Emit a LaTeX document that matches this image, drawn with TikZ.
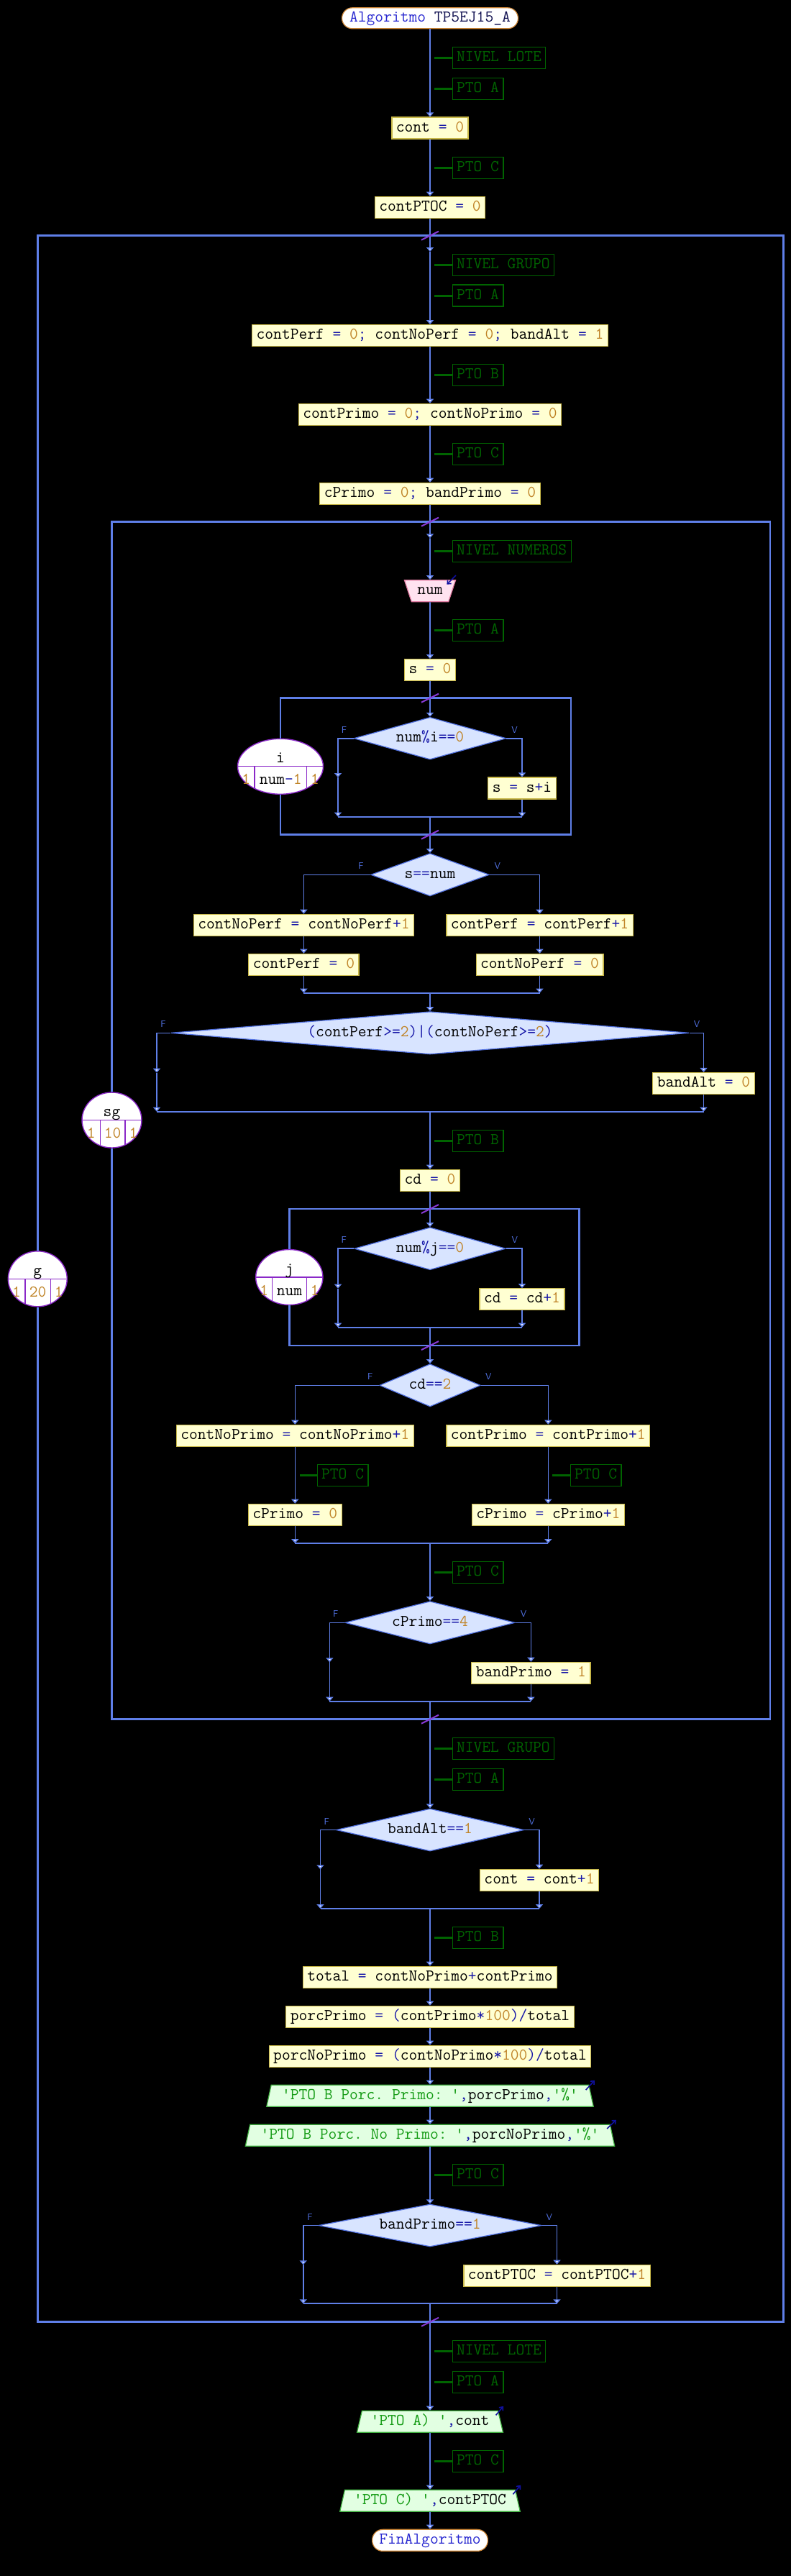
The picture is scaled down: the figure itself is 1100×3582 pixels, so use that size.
\documentclass[tikz,border=0pt]{standalone}
\usetikzlibrary{arrows.meta,shapes.geometric}
\definecolor{flowc}{HTML}{5F7FE8}
\definecolor{boxfill}{HTML}{FFFFD2}
\definecolor{boxdraw}{HTML}{C8B848}
\definecolor{dfill}{HTML}{D8E4FF}
\definecolor{ddraw}{HTML}{5070E0}
\definecolor{infill}{HTML}{FFE2F0}
\definecolor{indraw}{HTML}{E07AA0}
\definecolor{outfill}{HTML}{E2FFE2}
\definecolor{outdraw}{HTML}{40B040}
\definecolor{loopc}{HTML}{8A28C8}
\definecolor{termdraw}{HTML}{D08838}
\definecolor{comc}{HTML}{006400}
\definecolor{slashc}{HTML}{8A3AD8}
\definecolor{cvar}{HTML}{000000}
\definecolor{cop}{HTML}{1818A8}
\definecolor{cnum}{HTML}{C08428}
\definecolor{cstr}{HTML}{129A12}
\definecolor{ckw}{HTML}{2828D0}
\definecolor{cnm}{HTML}{101050}
\definecolor{iocol}{HTML}{1010A0}
\newcommand\codefont{\ttfamily\frenchspacing\fontsize{22.857pt}{24pt}\selectfont}
\newcommand\cV[1]{\textcolor{cvar}{#1}}
\newcommand\cO[1]{\textcolor{cop}{#1}}
\newcommand\cN[1]{\textcolor{cnum}{#1}}
\newcommand\cS[1]{\textcolor{cstr}{#1}}
\newcommand\qq{\textquotesingle}
\tikzset{
  every node/.style={font=\codefont, inner sep=0pt, text height=14pt, text depth=4pt},
  asg/.style={draw=boxdraw, fill=boxfill, line width=1.2pt, inner xsep=6pt, minimum height=30pt},
  dec/.style={diamond, draw=ddraw, fill=dfill, line width=1.2pt},
  com/.style={draw=comc, text=comc, line width=1.2pt, inner xsep=6pt, minimum height=30pt, anchor=west},
  comtick/.style={draw=comc, line width=3pt},
  term/.style={draw=termdraw, fill=white, line width=1.2pt, rounded corners=14.5pt, minimum height=29pt},
  inp/.style={trapezium, trapezium left angle=110.6, trapezium right angle=110.6, trapezium stretches=true, draw=indraw, fill=infill, line width=1.2pt, minimum height=30pt},
  outp/.style={trapezium, trapezium left angle=71.5, trapezium right angle=71.5, trapezium stretches=true, draw=outdraw, fill=outfill, line width=1.2pt, minimum height=30pt},
  loopell/.style={ellipse, draw=loopc, fill=white, line width=1.4pt, minimum height=77pt},
  cellline/.style={draw=loopc, line width=1.2pt},
  flow/.style={draw=flowc, line width=1.6pt},
  arr/.style={flow, -{Triangle[width=10pt,length=6pt,fill=white]}},
  joinl/.style={draw=flowc, line width=2.2pt},
  loopbox/.style={draw=flowc, line width=2.6pt},
  slash/.style={draw=slashc, line width=2pt},
  lbl/.style={font=\sffamily\fontsize{13pt}{13pt}\selectfont, text=ddraw, text height=9pt, text depth=0pt},
  ioarr/.style={draw=iocol, line width=1.6pt, -{Straight Barb[length=4pt,width=7pt]}},
}
\begin{document}
\begin{tikzpicture}[x=1pt,y=-1pt]
\useasboundingbox (0,0) rectangle (1100,3582);
\fill[black] (0,0) rectangle (1100,3582);

% ---------- main column nodes ----------
\node[term, minimum width=245pt] (start) at (598,25.3) {\textcolor{ckw}{Algoritmo} \textcolor{cnm}{TP5EJ15\_A}};
\node[com] (c1) at (628.5,80.5) {NIVEL LOTE};
\node[com] (c2) at (628.5,123.3) {PTO A};
\node[asg] (cont0) at (598,178) {\cV{cont} \cO{=} \cN{0}};
\node[com] (c3) at (628.5,233.3) {PTO C};
\node[asg] (ptoc0) at (598,288.3) {\cV{contPTOC} \cO{=} \cN{0}};
\node[com] (c4) at (628.5,368.3) {NIVEL GRUPO};
\node[com] (c5) at (628.5,411) {PTO A};
\node[asg] (init1) at (598,466.7) {\cV{contPerf} \cO{=} \cN{0}\cO{;} \cV{contNoPerf} \cO{=} \cN{0}\cO{;} \cV{bandAlt} \cO{=} \cN{1}};
\node[com] (c6) at (628.5,521.3) {PTO B};
\node[asg] (init2) at (598,576.3) {\cV{contPrimo} \cO{=} \cN{0}\cO{;} \cV{contNoPrimo} \cO{=} \cN{0}};
\node[com] (c7) at (628.5,631.3) {PTO C};
\node[asg] (init3) at (598,686.3) {\cV{cPrimo} \cO{=} \cN{0}\cO{;} \cV{bandPrimo} \cO{=} \cN{0}};
\node[com] (c8) at (628.5,766.3) {NIVEL NUMEROS};
\node[inp, minimum width=71.4pt] (num) at (598,821.7) {\cV{num}};
\node[com] (c9) at (628.5,876.3) {PTO A};
\node[asg] (s0) at (598,931.7) {\cV{s} \cO{=} \cN{0}};
\node[dec, aspect=3.6, minimum width=211.7pt, minimum height=58.7pt] (d1) at (598,1026.7) {\cV{num}\cO{\%}\cV{i}\cO{==}\cN{0}};
\node[asg] (ssi) at (726,1096) {\cV{s} \cO{=} \cV{s}\cO{+}\cV{i}};
\node[dec, aspect=2.78, minimum width=164.6pt, minimum height=59.3pt] (d2) at (598,1216.3) {\cV{s}\cO{==}\cV{num}};
\node[asg] (cnp1) at (422.4,1286.3) {\cV{contNoPerf} \cO{=} \cV{contNoPerf}\cO{+}\cN{1}};
\node[asg] (cp0) at (422.4,1341.3) {\cV{contPerf} \cO{=} \cN{0}};
\node[asg] (cp1) at (750.5,1286.3) {\cV{contPerf} \cO{=} \cV{contPerf}\cO{+}\cN{1}};
\node[asg] (cnp0) at (750.5,1341.3) {\cV{contNoPerf} \cO{=} \cN{0}};
\node[dec, aspect=12.15, minimum width=720.8pt, minimum height=59.3pt] (d3) at (598,1436.3) {\cO{(}\cV{contPerf}\cO{>=}\cN{2}\cO{)|(}\cV{contNoPerf}\cO{>=}\cN{2}\cO{)}};
\node[asg] (ba0) at (978.5,1506.5) {\cV{bandAlt} \cO{=} \cN{0}};
\node[com] (c10) at (628.5,1586.7) {PTO B};
\node[asg] (cd0) at (598,1641.3) {\cV{cd} \cO{=} \cN{0}};
\node[dec, aspect=3.57, minimum width=210.4pt, minimum height=59pt] (d4) at (598,1736.2) {\cV{num}\cO{\%}\cV{j}\cO{==}\cN{0}};
\node[asg] (cdp) at (726,1806.7) {\cV{cd} \cO{=} \cV{cd}\cO{+}\cN{1}};
\node[dec, aspect=2.37, minimum width=140.3pt, minimum height=59.3pt] (d5) at (598,1926.3) {\cV{cd}\cO{==}\cN{2}};
\node[asg] (cnpr) at (410.3,1996.3) {\cV{contNoPrimo} \cO{=} \cV{contNoPrimo}\cO{+}\cN{1}};
\node[com] (cL) at (440.6,2051.3) {PTO C};
\node[asg] (cpr0) at (410.3,2106.3) {\cV{cPrimo} \cO{=} \cN{0}};
\node[asg] (cpr) at (762.3,1996.3) {\cV{contPrimo} \cO{=} \cV{contPrimo}\cO{+}\cN{1}};
\node[com] (cR) at (792.6,2051.3) {PTO C};
\node[asg] (cprp) at (762.3,2106.3) {\cV{cPrimo} \cO{=} \cV{cPrimo}\cO{+}\cN{1}};
\node[com] (c11) at (628.5,2186.3) {PTO C};
\node[dec, aspect=3.98, minimum width=236pt, minimum height=59.3pt] (d6) at (598,2256.3) {\cV{cPrimo}\cO{==}\cN{4}};
\node[asg] (bp1) at (738.4,2326.3) {\cV{bandPrimo} \cO{=} \cN{1}};
\node[com] (c12) at (628.5,2431.3) {NIVEL GRUPO};
\node[com] (c13) at (628.5,2474.3) {PTO A};
\node[dec, aspect=4.42, minimum width=261pt, minimum height=59pt] (d7) at (598,2544.5) {\cV{bandAlt}\cO{==}\cN{1}};
\node[asg] (cont1) at (750,2614.3) {\cV{cont} \cO{=} \cV{cont}\cO{+}\cN{1}};
\node[com] (c14) at (628.5,2694.3) {PTO B};
\node[asg] (total) at (598,2749.3) {\cV{total} \cO{=} \cV{contNoPrimo}\cO{+}\cV{contPrimo}};
\node[asg] (porcP) at (598,2804.3) {\cV{porcPrimo} \cO{=} \cO{(}\cV{contPrimo}\cO{*}\cN{100}\cO{)/}\cV{total}};
\node[asg] (porcNP) at (598,2859.3) {\cV{porcNoPrimo} \cO{=} \cO{(}\cV{contNoPrimo}\cO{*}\cN{100}\cO{)/}\cV{total}};
\node[outp, minimum width=456.2pt] (out1) at (598,2914.3) {\cS{\qq PTO B Porc. Primo: \qq}\cO{,}\cV{porcPrimo}\cO{,}\cS{\qq\%\qq}};
\node[outp, minimum width=516.2pt] (out2) at (598,2969.3) {\cS{\qq PTO B Porc. No Primo: \qq}\cO{,}\cV{porcNoPrimo}\cO{,}\cS{\qq\%\qq}};
\node[com] (c15) at (628.5,3024.3) {PTO C};
\node[dec, aspect=5.25, minimum width=310pt, minimum height=59pt] (d8) at (598,3094.5) {\cV{bandPrimo}\cO{==}\cN{1}};
\node[asg] (ptoc1) at (774.5,3164.3) {\cV{contPTOC} \cO{=} \cV{contPTOC}\cO{+}\cN{1}};
\node[com] (c16) at (628.5,3269.3) {NIVEL LOTE};
\node[com] (c17) at (628.5,3312.3) {PTO A};
\node[outp, minimum width=203.4pt] (outA) at (598,3367.3) {\cS{\qq PTO A) \qq}\cO{,}\cV{cont}};
\node[com] (c18) at (628.5,3422.3) {PTO C};
\node[outp, minimum width=251.2pt] (outC) at (598,3477.3) {\cS{\qq PTO C) \qq}\cO{,}\cV{contPTOC}};
\node[term, minimum width=160.7pt, minimum height=30pt] (fin) at (598,3532.3) {\textcolor{ckw}{FinAlgoritmo}};

% ---------- F / V labels ----------
\foreach \d/\fx/\vx in {d1/-13/11,d2/-13/11,d3/-10/10,d4/-14/12,d5/-12.6/10.5,d6/-12.7/11.5,d7/-12.6/10.4,d8/-11.5/10.3}{
  \node[lbl] (\d f) at ([shift={(\fx,-12)}]\d.west) {F};
  \node[lbl] (\d v) at ([shift={(\vx,-12)}]\d.east) {V};
}

% ---------- loop ellipses ----------
\node[loopell, minimum width=82pt] (gell) at (52.3,1778.3) {};
\node[loopell, minimum width=83pt] (sgell) at (155.5,1557.5) {};
\node[loopell, minimum width=119pt] (iell) at (390,1065.8) {};
\node[loopell, minimum width=93.3pt] (jell) at (402.3,1776) {};
\begin{scope}
  \clip (52.3,1778.3) ellipse [x radius=41pt, y radius=38.5pt];
  \draw[cellline] (10,1778.3) -- (95,1778.3) (35,1778.3) -- (35,1820) (70.2,1778.3) -- (70.2,1820);
\end{scope}
\begin{scope}
  \clip (155.5,1557.5) ellipse [x radius=41.5pt, y radius=38.5pt];
  \draw[cellline] (112,1557.5) -- (200,1557.5) (139.5,1557.5) -- (139.5,1600) (174,1557.5) -- (174,1600);
\end{scope}
\begin{scope}
  \clip (390,1065.8) ellipse [x radius=59.5pt, y radius=38.5pt];
  \draw[cellline] (328,1065.8) -- (452,1065.8) (354,1065.8) -- (354,1110) (426.5,1065.8) -- (426.5,1110);
\end{scope}
\begin{scope}
  \clip (402.3,1776) ellipse [x radius=46.65pt, y radius=38.5pt];
  \draw[cellline] (353,1776) -- (452,1776) (378.8,1776) -- (378.8,1820) (426.5,1776) -- (426.5,1820);
\end{scope}
\node (gv) at (52.3,1768.3) {\cV{g}};
\node (gc1) at (23.1,1798.3) {\cN{1}};
\node (gc2) at (52.6,1798.3) {\cN{20}};
\node (gc3) at (81.8,1798.3) {\cN{1}};
\node (sgv) at (155.5,1547.5) {\cV{sg}};
\node (sgc1) at (126.7,1577.5) {\cN{1}};
\node (sgc2) at (156.7,1577.5) {\cN{10}};
\node (sgc3) at (185.5,1577.5) {\cN{1}};
\node (iv) at (390,1055.8) {\cV{i}};
\node (ic1) at (342.3,1085.8) {\cN{1}};
\node (ic2) at (390.3,1085.8) {\cV{num}\cO{-}\cN{1}};
\node (ic3) at (438,1085.8) {\cN{1}};
\node (jv) at (402.3,1766) {\cV{j}};
\node (jc1) at (367.2,1796) {\cN{1}};
\node (jc2) at (402.6,1796) {\cV{num}};
\node (jc3) at (437.8,1796) {\cN{1}};

% ---------- coordinates ----------
\coordinate (gtop) at (598,327.7);   \coordinate (gbot) at (598,3228.7);
\coordinate (sgtop) at (598,725.7);  \coordinate (sgbot) at (598,2390.7);
\coordinate (itop) at (598,970.7);   \coordinate (ibot) at (598,1160.7);
\coordinate (jtop) at (598,1681);    \coordinate (jbot) at (598,1871);
\coordinate (gin) at (598,350);      \coordinate (sgin) at (598,748.3);
\coordinate (gtl) at (52.3,327.7);   \coordinate (gtr) at (1089.5,327.7);
\coordinate (gbr) at (1089.5,3228.7);\coordinate (gbl) at (52.3,3228.7);
\coordinate (sgtl) at (155.5,725.7); \coordinate (sgtr) at (1071,725.7);
\coordinate (sgbr) at (1071,2390.7); \coordinate (sgbl) at (155.5,2390.7);
\coordinate (itl) at (390,970.7);    \coordinate (itr) at (793.9,970.7);
\coordinate (ibr) at (793.9,1160.7); \coordinate (ibl) at (390,1160.7);
\coordinate (jtl) at (402.3,1681);   \coordinate (jtr) at (805.3,1681);
\coordinate (jbr) at (805.3,1871);   \coordinate (jbl) at (402.3,1871);
% joins
\coordinate (j1L) at (470,1135.7);   \coordinate (j1R) at (726,1135.7);   \coordinate (j1C) at (598,1135.7);
\coordinate (j2L) at (422.4,1380.7); \coordinate (j2R) at (750.5,1380.7); \coordinate (j2C) at (598,1380.7);
\coordinate (j3L) at (218,1545.7);   \coordinate (j3R) at (978.5,1545.7); \coordinate (j3C) at (598,1545.7);
\coordinate (j4L) at (470,1845.7);   \coordinate (j4R) at (726,1845.7);   \coordinate (j4C) at (598,1845.7);
\coordinate (j5L) at (410.3,2146);   \coordinate (j5R) at (762.3,2146);   \coordinate (j5C) at (598,2146);
\coordinate (j6L) at (458.4,2365.7); \coordinate (j6R) at (738.4,2365.7); \coordinate (j6C) at (598,2365.7);
\coordinate (j7L) at (445.5,2654);   \coordinate (j7R) at (750,2654);     \coordinate (j7C) at (598,2654);
\coordinate (j8L) at (421.7,3203.3); \coordinate (j8R) at (774.5,3203.3); \coordinate (j8C) at (598,3203.3);
% empty false-branch arrow ends
\coordinate (d1fa) at (470,1081);
\coordinate (d3fa) at (218,1491.7);
\coordinate (d4fa) at (470,1791.7);
\coordinate (d6fa) at (458.4,2311.3);
\coordinate (d7fa) at (445.5,2599.3);
\coordinate (d8fa) at (421.7,3149.3);

% ---------- loop boxes ----------
\draw[loopbox] (gell.north) -- (gtl) -- (gtr) -- (gbr) -- (gbl) -- (gell.south);
\draw[loopbox] (sgell.north) -- (sgtl) -- (sgtr) -- (sgbr) -- (sgbl) -- (sgell.south);
\draw[loopbox] (iell.north) -- (itl) -- (itr) -- (ibr) -- (ibl) -- (iell.south);
\draw[loopbox] (jell.north) -- (jtl) -- (jtr) -- (jbr) -- (jbl) -- (jell.south);

% ---------- join lines ----------
\foreach \k in {1,...,8}{ \draw[joinl] (j\k L) -- (j\k R); }

% ---------- comment ticks ----------
\foreach \c in {c1,c2,c3,c4,c5,c6,c7,c8,c9,c10,c11,c12,c13,c14,c15,c16,c17,c18}{
  \draw[comtick] (\c.west) -- ++(-24.5,0);
}
\draw[comtick] (cL.west) -- ++(-23.6,0);
\draw[comtick] (cR.west) -- ++(-24.2,0);

% ---------- main flow ----------
\draw[arr] (start.south) -- (cont0.north);
\draw[arr] (cont0.south) -- (ptoc0.north);
\draw[arr] (ptoc0.south) -- (gin);
\draw[arr] (gin) -- (init1.north);
\draw[arr] (init1.south) -- (init2.north);
\draw[arr] (init2.south) -- (init3.north);
\draw[arr] (init3.south) -- (sgin);
\draw[arr] (sgin) -- (num.north);
\draw[arr] (num.south) -- (s0.north);
\draw[arr] (s0.south) -- (d1.north);
% d1
\draw[arr] (d1.west) -| (d1fa);
\draw[arr] (d1fa) -- (j1L);
\draw[arr] (d1.east) -| (ssi.north);
\draw[arr] (ssi.south) -- (j1R);
\draw[arr] (j1C) -- (d2.north);
% d2
\draw[arr] (d2.west) -| (cnp1.north);
\draw[arr] (cnp1.south) -- (cp0.north);
\draw[arr] (cp0.south) -- (j2L);
\draw[arr] (d2.east) -| (cp1.north);
\draw[arr] (cp1.south) -- (cnp0.north);
\draw[arr] (cnp0.south) -- (j2R);
\draw[arr] (j2C) -- (d3.north);
% d3
\draw[arr] (d3.west) -| (d3fa);
\draw[arr] (d3fa) -- (j3L);
\draw[arr] (d3.east) -| (ba0.north);
\draw[arr] (ba0.south) -- (j3R);
\draw[arr] (j3C) -- (cd0.north);
\draw[arr] (cd0.south) -- (d4.north);
% d4
\draw[arr] (d4.west) -| (d4fa);
\draw[arr] (d4fa) -- (j4L);
\draw[arr] (d4.east) -| (cdp.north);
\draw[arr] (cdp.south) -- (j4R);
\draw[arr] (j4C) -- (d5.north);
% d5
\draw[arr] (d5.west) -| (cnpr.north);
\draw[arr] (cnpr.south) -- (cpr0.north);
\draw[arr] (cpr0.south) -- (j5L);
\draw[arr] (d5.east) -| (cpr.north);
\draw[arr] (cpr.south) -- (cprp.north);
\draw[arr] (cprp.south) -- (j5R);
\draw[arr] (j5C) -- (d6.north);
% d6
\draw[arr] (d6.west) -| (d6fa);
\draw[arr] (d6fa) -- (j6L);
\draw[arr] (d6.east) -| (bp1.north);
\draw[arr] (bp1.south) -- (j6R);
\draw[arr] (j6C) -- (d7.north);
% d7
\draw[arr] (d7.west) -| (d7fa);
\draw[arr] (d7fa) -- (j7L);
\draw[arr] (d7.east) -| (cont1.north);
\draw[arr] (cont1.south) -- (j7R);
\draw[arr] (j7C) -- (total.north);
\draw[arr] (total.south) -- (porcP.north);
\draw[arr] (porcP.south) -- (porcNP.north);
\draw[arr] (porcNP.south) -- (out1.north);
\draw[arr] (out1.south) -- (out2.north);
\draw[arr] (out2.south) -- (d8.north);
% d8
\draw[arr] (d8.west) -| (d8fa);
\draw[arr] (d8fa) -- (j8L);
\draw[arr] (d8.east) -| (ptoc1.north);
\draw[arr] (ptoc1.south) -- (j8R);
\draw[arr] (j8C) -- (outA.north);
\draw[arr] (outA.south) -- (outC.north);
\draw[arr] (outC.south) -- (fin.north);

% ---------- loop crossing marks ----------
\foreach \p in {gtop,gbot,sgtop,sgbot,itop,ibot,jtop,jbot}{
  \draw[slash] ([shift={(-12,6)}]\p) -- ([shift={(12,-6)}]\p);
}

% ---------- input / output marks ----------
\draw[ioarr] (634,800) -- (621.4,812.7);
\draw[ioarr] (814.7,2906) -- (827,2892.7);
\draw[ioarr] (844.2,2960) -- (856.8,2947.7);
\draw[ioarr] (689.6,3358.3) -- (700,3346);
\draw[ioarr] (713.4,3468.3) -- (724,3455.7);
\end{tikzpicture}
\end{document}
